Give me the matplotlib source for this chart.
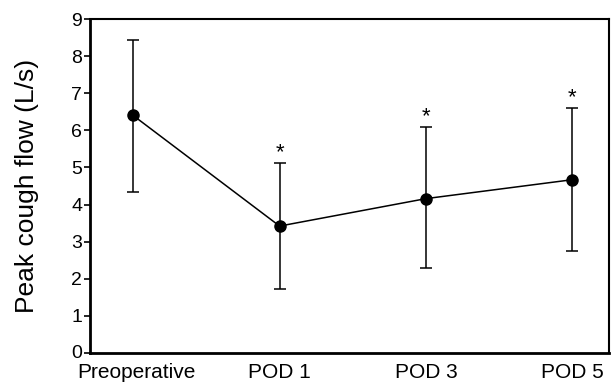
import matplotlib
matplotlib.use("Agg")
import matplotlib.pyplot as plt
import matplotlib.transforms as mtransforms

plt.rcParams["font.family"] = ["Liberation Sans", "DejaVu Sans"]

# Data
categories = ["Preoperative", "POD 1", "POD 3", "POD 5"]
means = [6.40, 3.42, 4.16, 4.67]
upper = [8.44, 5.12, 6.09, 6.61]
lower = [4.34, 1.72, 2.28, 2.76]
significant = [False, True, True, True]

x = list(range(len(categories)))
err_low = [m - lo for m, lo in zip(means, lower)]
err_high = [hi - m for m, hi in zip(means, upper)]

fig = plt.figure(figsize=(6.12, 3.85), dpi=100)
ax = fig.add_axes([90 / 612, 32 / 385, 519 / 612, 334 / 385])

ax.errorbar(x, means, yerr=[err_low, err_high], color="black", marker="o",
            markersize=8, linewidth=1.1, elinewidth=1.1, capsize=4, capthick=1.1)

for xi, hi, sig in zip(x, upper, significant):
    if sig:
        ax.annotate("*", (xi, hi), xytext=(0, 0), textcoords="offset points",
                    ha="center", va="bottom", fontsize=16)

ax.set_xlim(-0.295, 3.25)
ax.set_ylim(0, 9)
ax.set_yticks(range(10))
ax.set_xticks(x)
ax.set_xticklabels(categories)
ax.tick_params(axis="y", labelsize=14, length=4, width=1.2, pad=1.5)
ax.tick_params(axis="x", labelsize=15, length=0, pad=7.5)
ax.set_ylabel("Peak cough flow (L/s)", fontsize=19, labelpad=23)

# small nudges so "0" and "Preoperative" do not collide
lab0 = ax.get_xticklabels()[0]
lab0.set_transform(lab0.get_transform()
                   + mtransforms.ScaledTranslation(3 / 100, 0, fig.dpi_scale_trans))
zero = ax.get_yticklabels()[0]
zero.set_transform(zero.get_transform()
                   + mtransforms.ScaledTranslation(0, 1.5 / 100, fig.dpi_scale_trans))

for side in ["left", "bottom"]:
    ax.spines[side].set_linewidth(2.0)
for side in ["top", "right"]:
    ax.spines[side].set_linewidth(1.5)

fig.savefig("out.png", dpi=100)
